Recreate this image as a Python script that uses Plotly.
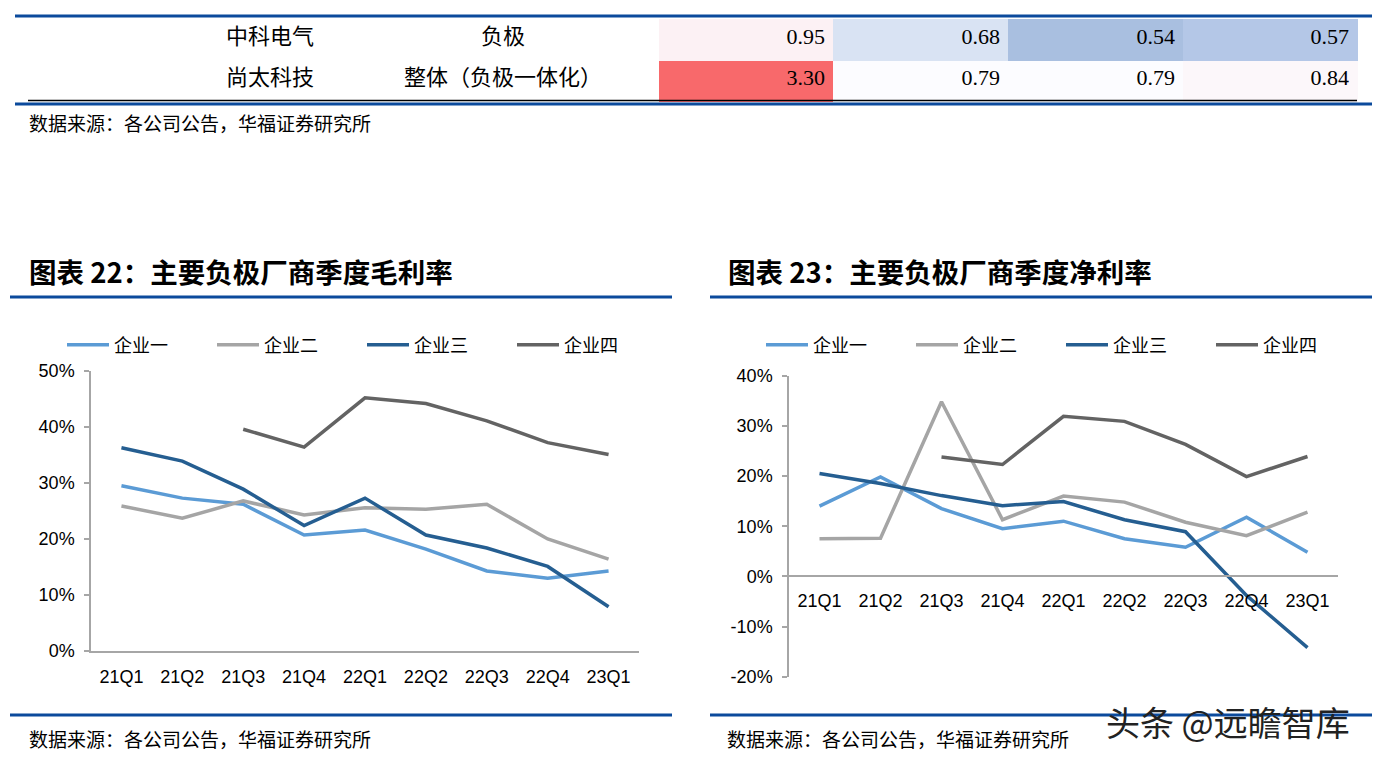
import plotly.graph_objects as go

W, H = 1383, 761
OFF = 8  # page body margin offset

def fx(px):
    return (px - OFF) / W

def fy(py):
    return 1 - (py - OFF) / H

# ---------------- data ----------------
quarters = ["21Q1", "21Q2", "21Q3", "21Q4", "22Q1", "22Q2", "22Q3", "22Q4", "23Q1"]
names = ["企业一", "企业二", "企业三", "企业四"]

gross_1 = [29.5, 27.3, 26.2, 20.7, 21.6, 18.2, 14.3, 13.0, 14.3]
gross_2 = [25.9, 23.7, 26.8, 24.3, 25.6, 25.3, 26.2, 20.0, 16.4]
gross_3 = [36.3, 33.9, 28.9, 22.4, 27.3, 20.7, 18.4, 15.1, 7.9]
gross_4 = [None, None, 39.6, 36.4, 45.2, 44.2, 41.1, 37.2, 35.1]

net_1 = [14.0, 19.8, 13.5, 9.5, 11.0, 7.5, 5.8, 11.8, 4.8]
net_2 = [7.5, 7.6, 34.8, 11.3, 16.0, 14.8, 10.8, 8.1, 12.8]
net_3 = [20.5, 18.5, 16.1, 14.1, 14.9, 11.3, 8.9, -3.8, -14.2]
net_4 = [None, None, 23.8, 22.3, 31.9, 30.9, 26.3, 19.9, 23.9]

gross = [gross_1, gross_2, gross_3, gross_4]
net = [net_1, net_2, net_3, net_4]

# table fragment
tbl_row1_text = ["中科电气", "负极", ""]
tbl_row1_vals = [0.95, 0.68, 0.54, 0.57]
tbl_row2_text = ["尚太科技", "整体（负极一体化）", ""]
tbl_row2_vals = [3.30, 0.79, 0.79, 0.84]

gross_ticks = [0, 10, 20, 30, 40, 50]
net_ticks = [-20, -10, 0, 10, 20, 30, 40]

# ---------------- styles ----------------
colors = ["#5B9BD5", "#A5A5A5", "#255E91", "#636363"]
CJK = "Noto Sans CJK SC"
LAT = "Liberation Sans"
SERIF = "Liberation Serif"
RULE = "#0B4A9C"
AXC = "#A6A6A6"

row1_fill = ["white", "white", "white", "#FCF1F4", "#D9E3F3", "#A9BFE0", "#B4C7E7"]
row2_fill = ["white", "white", "white", "#F8696B", "#FCFCFF", "#FCFCFF", "#FCF7FA"]

fig = go.Figure()

for i, nm in enumerate(names):
    fig.add_trace(go.Scatter(
        x=quarters, y=gross[i], mode="lines", name=nm,
        line=dict(color=colors[i], width=3.5),
        xaxis="x", yaxis="y", legend="legend", hoverinfo="skip"))
for i, nm in enumerate(names):
    fig.add_trace(go.Scatter(
        x=quarters, y=net[i], mode="lines", name=nm,
        line=dict(color=colors[i], width=3.5),
        xaxis="x2", yaxis="y2", legend="legend2", hoverinfo="skip"))

# table
col_fonts = [CJK, CJK, CJK, SERIF, SERIF, SERIF, SERIF]
col_align = ["center", "center", "center", "right", "right", "right", "right"]
fig.add_trace(go.Table(
    domain=dict(x=[fx(140), fx(1357)], y=[fy(104), fy(19)]),
    columnwidth=[260, 206, 53, 174, 175, 175, 174],
    header=dict(
        values=tbl_row1_text + ["%.2f" % v for v in tbl_row1_vals],
        fill_color=row1_fill,
        line=dict(color=row1_fill, width=1),
        align=col_align,
        height=41,
        font=dict(family=col_fonts, size=22, color="black"),
    ),
    cells=dict(
        values=[[t] for t in tbl_row2_text] + [["%.2f" % v] for v in tbl_row2_vals],
        fill_color=[[c] for c in row2_fill],
        line=dict(color=row2_fill, width=1),
        align=col_align,
        height=41,
        font=dict(family=col_fonts, size=22, color="black"),
    ),
))

axis_common = dict(
    showgrid=False, zeroline=False, showline=True, linecolor=AXC, linewidth=1.5,
    tickfont=dict(family=LAT, size=18, color="black"), automargin=False,
)

legend_common = dict(
    yanchor="middle", orientation="h", entrywidth=93, entrywidthmode="pixels",
    itemwidth=42, font=dict(family=CJK, size=18, color="black"),
    bgcolor="rgba(0,0,0,0)",
)

fig.update_layout(
    width=W, height=H, autosize=False,
    margin=dict(l=0, r=0, t=0, b=0, pad=0),
    paper_bgcolor="white", plot_bgcolor="white",
    xaxis=dict(domain=[fx(91), fx(639)], anchor="y", type="category",
               range=[-0.5, 8.5], ticks="", ticklabelstandoff=9, **axis_common),
    yaxis=dict(domain=[fy(651), fy(371)], anchor="x", range=[0, 50],
               tickvals=gross_ticks, ticktext=["%d%%" % v for v in gross_ticks],
               ticks="outside", ticklen=5, tickcolor=AXC, tickwidth=1.5,
               ticklabelstandoff=6, **axis_common),
    xaxis2=dict(domain=[fx(789), fx(1338)], anchor="free", position=fy(575.7),
                type="category", range=[-0.5, 8.5], ticks="",
                ticklabelstandoff=9, **axis_common),
    yaxis2=dict(domain=[fy(676.7), fy(375.7)], anchor="x2", range=[-20, 40],
                tickvals=net_ticks, ticktext=["%d%%" % v for v in net_ticks],
                ticks="outside", ticklen=5, tickcolor=AXC, tickwidth=1.5,
                ticklabelstandoff=6, **axis_common),
    legend=dict(x=fx(62), y=fy(345), **legend_common),
    legend2=dict(x=fx(761), y=fy(345), **legend_common),
    showlegend=True,
)

shapes = []
def hline(x0, x1, y, color, w):
    shapes.append(dict(type="line", xref="paper", yref="paper",
                       x0=fx(x0), x1=fx(x1), y0=fy(y), y1=fy(y),
                       line=dict(color=color, width=w)))

hline(15, 1372, 16, RULE, 3)
hline(28, 1357, 100.5, "black", 1.5)
hline(15, 1372, 104, RULE, 3)
hline(10, 672, 297, RULE, 3)
hline(710, 1372, 297, RULE, 3)
hline(10, 672, 715, RULE, 3)
hline(710, 1372, 715, RULE, 3)
fig.update_layout(shapes=shapes)

annos = []
def text(x, y, s, size, family=CJK, color="black", xanchor="left", bold=False):
    annos.append(dict(xref="paper", yref="paper", x=fx(x), y=fy(y), text=("<b>%s</b>" % s) if bold else s,
                      showarrow=False, xanchor=xanchor, yanchor="middle",
                      font=dict(family=family, size=size, color=color)))

text(27, 271, "图表 22：主要负极厂商季度毛利率", 27.5, bold=True)
text(726, 271, "图表 23：主要负极厂商季度净利率", 27.5, bold=True)
src = "数据来源：各公司公告，华福证券研究所"
text(27, 123, src, 19)
text(27, 738, src, 19)
text(725, 738, src, 19)
text(1104, 721, "头条 @远瞻智库", 34, color="#222222")
fig.update_layout(annotations=annos)

fig.write_html("out.html")
